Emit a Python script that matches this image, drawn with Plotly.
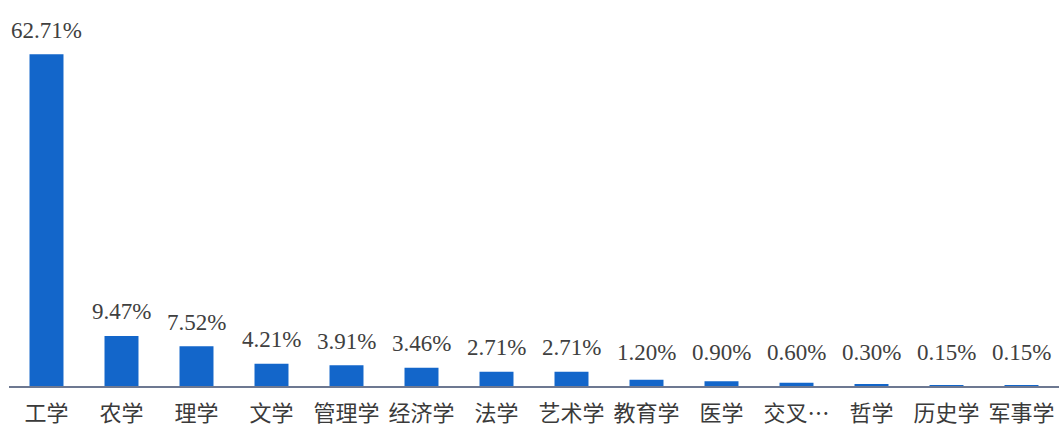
import plotly.graph_objects as go

categories = ["工学", "农学", "理学", "文学", "管理学", "经济学", "法学", "艺术学",
              "教育学", "医学", "交叉…", "哲学", "历史学", "军事学"]
values = [62.71, 9.47, 7.52, 4.21, 3.91, 3.46, 2.71, 2.71, 1.20, 0.90, 0.60, 0.30, 0.15, 0.15]
value_labels = ["62.71%", "9.47%", "7.52%", "4.21%", "3.91%", "3.46%", "2.71%", "2.71%",
                "1.20%", "0.90%", "0.60%", "0.30%", "0.15%", "0.15%"]

BAR_COLOR = "#1366CA"

fig = go.Figure(go.Bar(
    x=categories, y=values, marker=dict(color=BAR_COLOR, line=dict(width=0)),
    hoverinfo="skip", cliponaxis=False,
))

label_floor = 1.75
for c, v, t in zip(categories, values, value_labels):
    fig.add_annotation(
        x=c, y=max(v, label_floor), text=t, showarrow=False,
        yshift=24, xanchor="center", yanchor="middle",
        font=dict(family="Liberation Serif, Times New Roman, serif", size=23, color="#404040"),
    )

fig.update_layout(
    width=1059, height=428,
    margin=dict(l=9, r=0, t=0, b=42, autoexpand=False),
    paper_bgcolor="white", plot_bgcolor="white",
    bargap=0.547, showlegend=False,
    xaxis=dict(
        showline=True, linecolor="#6d7891", linewidth=1.5,
        showgrid=False, ticks="", ticklabelstandoff=7, automargin=False,
        tickfont=dict(family="Noto Sans CJK SC, sans-serif", size=22, color="#3a3a3a"),
        fixedrange=True,
    ),
    yaxis=dict(range=[0, 386 / 5.29], showgrid=False, showticklabels=False,
               zeroline=False, showline=False, fixedrange=True, automargin=False),
)

fig.write_html(
    "out.html",
    config={"displayModeBar": False},
    post_script="document.body.style.margin='0';document.body.style.overflow='hidden';",
)
